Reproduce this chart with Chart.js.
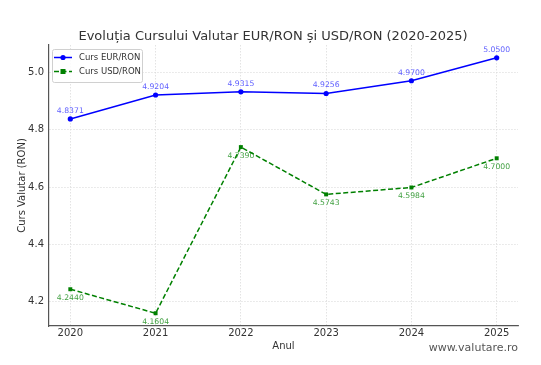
<!DOCTYPE html>
<html lang="ro">
<head>
    <meta charset="UTF-8">
    <title>Evoluția Cursului Valutar</title>
    <script src="https://cdn.jsdelivr.net/npm/chart.js"></script>
    <style>
        body { margin: 0; background: #fff; }
        #wrap { position: relative; width: 541px; height: 365px; }
    </style>
</head>
<body>
    <div id="wrap"><canvas id="chart" width="541" height="365"></canvas></div>

    <script>
        const years = [2020, 2021, 2022, 2023, 2024, 2025];
        const eurRon = [4.8371, 4.9204, 4.9315, 4.9256, 4.9700, 5.0500];
        const usdRon = [4.2440, 4.1604, 4.7390, 4.5743, 4.5984, 4.7000];
        const yTicks = [4.2, 4.4, 4.6, 4.8, 5.0];

        const FONT = "'DejaVu Sans', sans-serif";

        // labels above / below each point, legend box, title, watermark
        const extras = {
            id: 'extras',
            afterDatasetsDraw(chart) {
                const ctx = chart.ctx;
                ctx.save();
                ctx.font = '7.7px ' + FONT;
                ctx.textAlign = 'center';
                ctx.textBaseline = 'middle';
                chart.data.datasets.forEach((ds, i) => {
                    const meta = chart.getDatasetMeta(i);
                    ctx.fillStyle = ds.labelColor;
                    meta.data.forEach((pt, j) => {
                        const txt = ds.data[j].y.toFixed(4);
                        const dy = ds.labelPos === 'above' ? -8 : 9;
                        ctx.fillText(txt, pt.x, pt.y + dy);
                    });
                });
                ctx.restore();
            },
            afterDraw(chart) {
                const ctx = chart.ctx;
                const area = chart.chartArea;
                ctx.save();
                // title
                ctx.fillStyle = '#333';
                ctx.font = '13px ' + FONT;
                ctx.textAlign = 'center';
                ctx.textBaseline = 'middle';
                ctx.fillText('Evoluția Cursului Valutar EUR/RON și USD/RON (2020-2025)', 273, 37);

                // legend
                const lx = area.left + 3, ly = area.top + 4;
                ctx.fillStyle = 'rgba(255,255,255,0.85)';
                ctx.strokeStyle = '#d0d0d0';
                ctx.lineWidth = 1;
                ctx.beginPath();
                ctx.roundRect(lx + 0.5, ly + 0.5, 90, 33, 2);
                ctx.fill();
                ctx.stroke();
                ctx.font = '8.5px ' + FONT;
                ctx.textAlign = 'left';
                chart.data.datasets.forEach((ds, i) => {
                    const y = ly + 8.5 + i * 14;
                    ctx.strokeStyle = ds.borderColor;
                    ctx.lineWidth = 1.5;
                    ctx.setLineDash(ds.borderDash || []);
                    ctx.beginPath();
                    ctx.moveTo(lx + 2, y);
                    ctx.lineTo(lx + 20, y);
                    ctx.stroke();
                    ctx.setLineDash([]);
                    ctx.fillStyle = ds.borderColor;
                    if (ds.pointStyle === 'rect') {
                        ctx.fillRect(lx + 8.5, y - 2.5, 5, 5);
                    } else {
                        ctx.beginPath();
                        ctx.arc(lx + 11, y, 2.6, 0, Math.PI * 2);
                        ctx.fill();
                    }
                    ctx.fillStyle = '#333';
                    ctx.fillText(ds.label, lx + 27, y);
                });

                // watermark
                ctx.fillStyle = '#555';
                ctx.font = '11px ' + FONT;
                ctx.textAlign = 'right';
                ctx.fillText('www.valutare.ro', area.right, 348);
                ctx.restore();
            }
        };

        new Chart(document.getElementById('chart'), {
            type: 'line',
            data: {
                datasets: [
                    {
                        label: 'Curs EUR/RON',
                        data: years.map((x, i) => ({ x: x, y: eurRon[i] })),
                        borderColor: '#0000ff',
                        backgroundColor: '#0000ff',
                        borderWidth: 1.5,
                        pointRadius: 2.6,
                        pointBorderWidth: 0,
                        pointStyle: 'circle',
                        labelColor: 'rgba(40,40,255,0.75)',
                        labelPos: 'above',
                        tension: 0
                    },
                    {
                        label: 'Curs USD/RON',
                        data: years.map((x, i) => ({ x: x, y: usdRon[i] })),
                        borderColor: '#008000',
                        backgroundColor: '#008000',
                        borderWidth: 1.5,
                        borderDash: [5, 2.5],
                        pointRadius: 2.8,
                        pointBorderWidth: 0,
                        pointStyle: 'rect',
                        labelColor: 'rgba(0,128,0,0.75)',
                        labelPos: 'below',
                        tension: 0
                    }
                ]
            },
            options: {
                responsive: false,
                animation: false,
                layout: { padding: { top: 45, right: 23, left: 14, bottom: 13 } },
                plugins: {
                    legend: { display: false },
                    title: { display: false },
                    tooltip: { enabled: false }
                },
                scales: {
                    x: {
                        type: 'linear',
                        min: 2019.75,
                        max: 2025.25,
                        afterBuildTicks: s => { s.ticks = years.map(v => ({ value: v })); },
                        afterFit: s => { s.height = 26; },
                        ticks: {
                            color: '#333',
                            font: { family: FONT, size: 10 },
                            padding: 1,
                            callback: v => String(v)
                        },
                        grid: {
                            color: '#dcdcdc',
                            lineWidth: 0.8,
                            drawTicks: false
                        },
                        border: { color: '#555', width: 1.2, dash: [1.5, 1.5] },
                        title: {
                            display: true,
                            text: 'Anul',
                            color: '#333',
                            font: { family: FONT, size: 10 },
                            padding: { top: 0, bottom: 0 }
                        }
                    },
                    y: {
                        min: 4.116,
                        max: 5.0945,
                        afterBuildTicks: s => { s.ticks = yTicks.map(v => ({ value: v })); },
                        afterFit: s => { s.width = 35; },
                        ticks: {
                            color: '#333',
                            font: { family: FONT, size: 10 },
                            padding: 5,
                            callback: v => v.toFixed(1)
                        },
                        grid: {
                            color: '#dcdcdc',
                            lineWidth: 0.8,
                            drawTicks: false
                        },
                        border: { color: '#555', width: 1.2, dash: [1.5, 1.5] },
                        title: {
                            display: true,
                            text: 'Curs Valutar (RON)',
                            color: '#333',
                            font: { family: FONT, size: 10 },
                            padding: { top: 2, bottom: 2 }
                        }
                    }
                }
            },
            plugins: [extras]
        });
    </script>
</body>
</html>
